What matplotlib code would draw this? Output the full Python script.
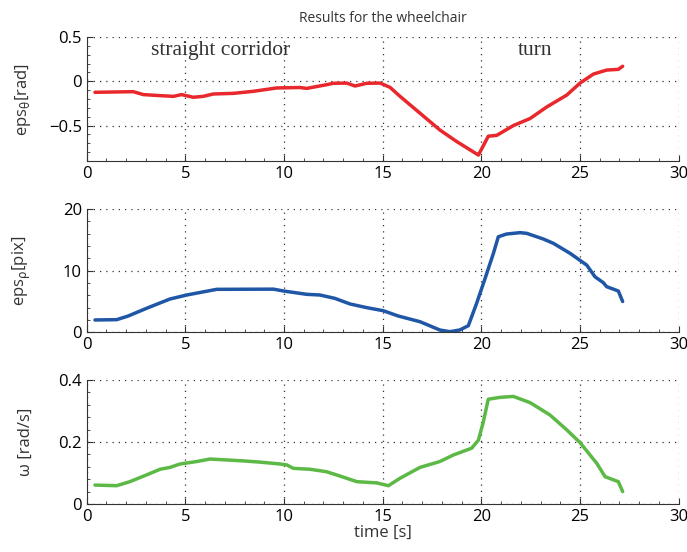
import numpy as np
import matplotlib.pyplot as plt
from matplotlib.ticker import MultipleLocator

# eps_theta [rad]
t_theta = [0.42, 1.5, 2.36, 2.87, 3.6, 4.39, 4.81, 5.4, 5.9, 6.42, 7.43, 8.44, 9.63, 10.81,
           11.15, 12.16, 12.5, 13.18, 13.6, 14.19, 14.87, 15.37, 15.88, 16.89, 17.9, 18.75,
           19.76, 19.85, 20.35, 20.78, 21.62, 22.47, 23.31, 24.33, 25.0, 25.68, 26.35, 26.94, 27.16]
eps_theta = [-0.124, -0.12, -0.117, -0.15, -0.16, -0.17, -0.15, -0.18, -0.17, -0.143, -0.136,
             -0.113, -0.075, -0.07, -0.08, -0.038, -0.022, -0.02, -0.053, -0.022, -0.02, -0.068,
             -0.17, -0.36, -0.55, -0.68, -0.82, -0.833, -0.62, -0.61, -0.50, -0.42, -0.29, -0.155,
             -0.02, 0.082, 0.127, 0.135, 0.17]

# eps_rho [pix]
t_rho = [0.42, 1.52, 2.1, 3.04, 4.22, 5.07, 6.59, 9.46, 9.97, 11.15, 11.82, 12.58, 13.34, 14.19,
         15.03, 15.79, 16.89, 17.9, 18.4, 18.9, 19.34, 19.76, 20.19, 20.61, 20.86, 21.28, 21.96,
         22.3, 23.14, 23.65, 24.5, 25.34, 25.76, 26.18, 26.35, 26.94, 27.16]
eps_rho = [2.0, 2.05, 2.64, 3.9, 5.4, 6.05, 6.97, 7.0, 6.7, 6.16, 6.05, 5.5, 4.6, 4.0, 3.5, 2.64,
           1.72, 0.37, 0.1, 0.37, 1.07, 4.7, 8.75, 12.8, 15.5, 15.94, 16.16, 16.05, 15.13, 14.43,
           12.8, 10.9, 9.0, 8.05, 7.4, 6.7, 5.0]

# omega [rad/s]
t_omega = [0.42, 1.52, 2.19, 3.04, 3.72, 4.22, 4.73, 5.58, 6.25, 7.1, 7.94, 8.79, 9.8, 10.14,
           10.47, 11.32, 12.16, 12.84, 13.69, 14.7, 15.29, 15.88, 16.89, 17.9, 18.58, 19.51,
           19.85, 20.1, 20.35, 20.95, 21.62, 22.47, 23.48, 24.33, 25.0, 25.85, 26.27, 26.94, 27.16]
omega = [0.061, 0.059, 0.072, 0.094, 0.112, 0.118, 0.129, 0.137, 0.145, 0.142, 0.139, 0.135,
         0.129, 0.126, 0.115, 0.112, 0.104, 0.090, 0.072, 0.068, 0.059, 0.083, 0.118, 0.137,
         0.158, 0.180, 0.206, 0.265, 0.338, 0.344, 0.347, 0.327, 0.287, 0.239, 0.198, 0.131,
         0.088, 0.072, 0.040]

plt.rcParams['font.family'] = ['Open Sans', 'DejaVu Sans']
plt.rcParams['mathtext.fontset'] = 'dejavusans'

fig = plt.figure(figsize=(6.87, 5.52), dpi=100)
left, width = 0.1262, 0.8617
ax1 = fig.add_axes([left, 0.7083, width, 0.2246])
ax2 = fig.add_axes([left, 0.398, width, 0.2234])
ax3 = fig.add_axes([left, 0.087, width, 0.2246])

panels = [
    (ax1, t_theta, eps_theta, '#e8282c', (-0.9, 0.5), [-0.5, 0, 0.5], ['\u22120.5', '0', '0.5'], 0.1,
     r'eps$_{\mathrm{\theta}}$[rad]'),
    (ax2, t_rho, eps_rho, '#1f56a6', (0, 20), [0, 10, 20], ['0', '10', '20'], 2,
     r'eps$_{\mathrm{\rho}}$[pix]'),
    (ax3, t_omega, omega, '#5cb946', (0, 0.4), [0, 0.2, 0.4], ['0', '0.2', '0.4'], 0.04,
     '\u03c9 [rad/s]'),
]

for ax, x, y, col, ylim, yt, ytl, ymin, ylab in panels:
    ax.plot(x, y, color=col, lw=2.5, solid_capstyle='round')
    ax.set_xlim(0, 30)
    ax.set_ylim(*ylim)
    ax.set_xticks([0, 5, 10, 15, 20, 25, 30])
    ax.set_yticks(yt)
    ax.set_yticklabels(ytl)
    ax.xaxis.set_minor_locator(MultipleLocator(1))
    ax.yaxis.set_minor_locator(MultipleLocator(ymin))
    ax.tick_params(which='both', direction='in', labelsize=12, color='#333333')
    ax.tick_params(which='major', length=4)
    ax.tick_params(which='minor', length=2)
    ax.grid(True, which='major', linestyle=(0, (1, 4)), color='#333333', lw=0.9)
    for s in ['top', 'right']:
        ax.spines[s].set_visible(False)
    for s in ['left', 'bottom']:
        ax.spines[s].set_color('#333333')
    ax.set_ylabel(ylab, fontsize=12, color='#333333')
    ax.yaxis.set_label_coords(-0.09, 0.5)

ax1.set_title('Results for the wheelchair', fontsize=10, color='#333333', pad=11)
ax1.text(6.8, 0.35, 'straight corridor', family='Liberation Serif', fontsize=15.5,
         ha='center', va='center', color='#333333')
ax1.text(22.7, 0.35, 'turn', family='Liberation Serif', fontsize=15.5,
         ha='center', va='center', color='#333333')
ax3.set_xlabel('time [s]', fontsize=12, color='#333333', labelpad=0)

fig.savefig('out.png', dpi=100)
